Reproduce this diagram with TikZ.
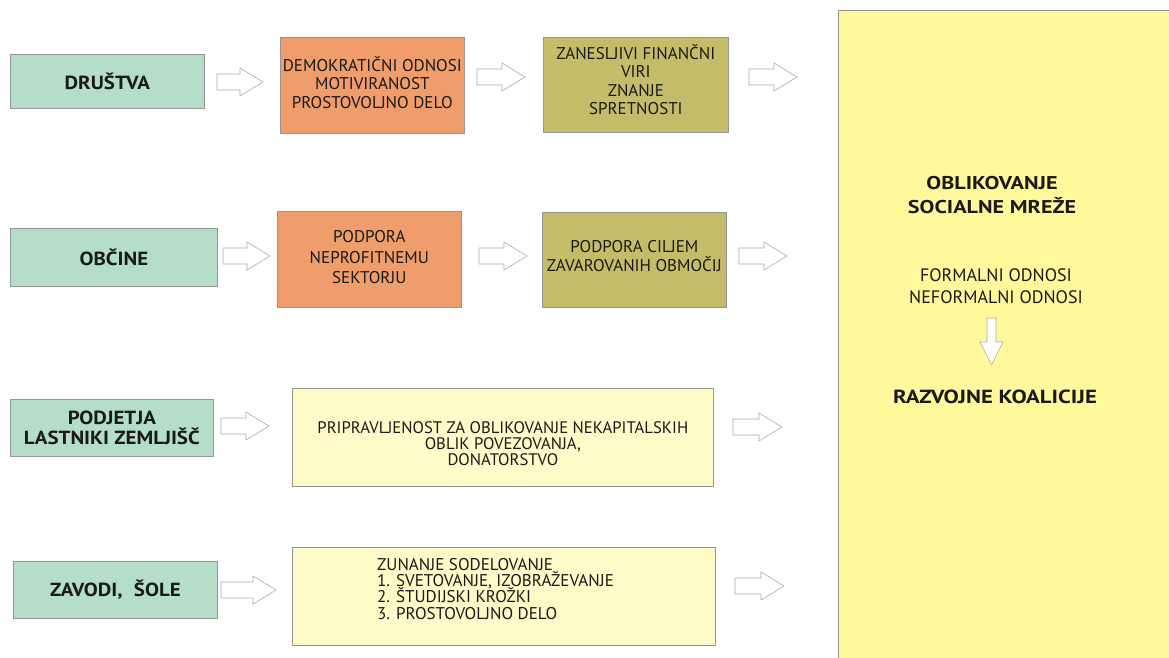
\documentclass[tikz,border=0pt]{standalone}
\usepackage{fontspec}
\setmainfont{PT Sans}
\newfontfamily\widefont{PT Sans}[FakeStretch=1.1]
\newfontfamily\widerfont{PT Sans}[FakeStretch=1.2]
\newcommand{\tightls}{\lineskiplimit=-20pt\relax}
\definecolor{gbox}{HTML}{B4DEC8}
\definecolor{obox}{HTML}{EF9D6B}
\definecolor{olbox}{HTML}{C4BC69}
\definecolor{ybox}{HTML}{FFFBC8}
\definecolor{bigy}{HTML}{FFF99B}
\definecolor{bordergray}{HTML}{959595}
\definecolor{txt}{HTML}{1A1A1A}
\newcommand{\rarr}[4]{% name, x0, ymid, length
  \coordinate (#1) at (#2,#3);
  \draw[blockarrow] (#1) ++(0,-8) -- ++(#4-23,0) -- ++(0,-6) -- ++(23,14) -- ++(-23,14) -- ++(0,-6) -- ++(-#4+23,0) -- cycle;}
\begin{document}
\begin{tikzpicture}[x=1pt,y=-1pt,
  box/.style={draw=bordergray, line width=0.7pt, inner sep=0pt, anchor=north west},
  gbx/.style={box, fill=gbox},
  obx/.style={box, fill=obox},
  olbx/.style={box, fill=olbox},
  ybx/.style={box, fill=ybox},
  bt/.style={text=txt, align=center, inner sep=0pt, font=\fontsize{17}{18.5}\selectfont\tightls},
  gt/.style={text=txt, align=center, inner sep=0pt, font=\widefont\fontsize{19}{20.5}\selectfont\bfseries\tightls},
  blockarrow/.style={draw=bordergray!80, line width=0.6pt, fill=white, line join=miter},
  bigb/.style={text=txt, align=center, inner sep=0pt, font=\widerfont\fontsize{18.5}{24}\selectfont\bfseries\tightls},
  bign/.style={text=txt, align=center, inner sep=0pt, font=\fontsize{18}{22}\selectfont\tightls}]
\useasboundingbox (0,0) rectangle (1169,657);
% big right box
\node[box, fill=bigy, minimum width=340pt, minimum height=660pt] (big) at (838,10) {};
% row 1
\node[gbx, minimum width=194pt, minimum height=54pt] (drustva) at (10,54) {};
\node[gt] (drustvat) at (drustva.center) {DRUŠTVA};
\node[obx, minimum width=184pt, minimum height=96pt] (o1) at (280,37) {};
\node[bt] (o1t) at ([yshift=3pt]o1.center) {DEMOKRATIČNI ODNOSI\\MOTIVIRANOST\\PROSTOVOLJNO DELO};
\node[olbx, minimum width=185pt, minimum height=95pt] (ol1) at (543,37) {};
\node[bt] (ol1t) at ([yshift=5pt]ol1.center) {ZANESLJIVI FINANČNI\\VIRI\\ZNANJE\\SPRETNOSTI};
% row 2
\node[gbx, minimum width=207pt, minimum height=58pt] (obcine) at (10,228) {};
\node[gt] (obcinet) at (obcine.center) {OBČINE};
\node[obx, minimum width=184pt, minimum height=96pt] (o2) at (277,211) {};
\node[bt, font=\fontsize{17}{20.5}\selectfont\tightls] (o2t) at ([yshift=2pt]o2.center) {PODPORA\\NEPROFITNEMU\\SEKTORJU};
\node[olbx, minimum width=184pt, minimum height=95pt] (ol2) at (542,212) {};
\node[bt] (ol2t) at ([yshift=4pt]ol2.center) {PODPORA CILJEM\\ZAVAROVANIH OBMOČIJ};
% row 3
\node[gbx, minimum width=203pt, minimum height=57pt] (podjetja) at (10,399) {};
\node[gt] (podjetjat) at (podjetja.center) {PODJETJA\\LASTNIKI ZEMLJIŠČ};
\node[ybx, minimum width=421pt, minimum height=98pt] (y1) at (292,388) {};
\node[bt, font=\fontsize{16.7}{16}\selectfont\tightls] (y1t) at ([yshift=-6pt]y1.center) {PRIPRAVLJENOST ZA OBLIKOVANJE NEKAPITALSKIH\\OBLIK POVEZOVANJA,\\DONATORSTVO};
% row 4
\node[gbx, minimum width=204pt, minimum height=57pt] (zavodi) at (13,561) {};
\node[gt] (zavodit) at (zavodi.center) {ZAVODI,\hspace{0.6em}ŠOLE};
\node[ybx, minimum width=423pt, minimum height=98pt] (y2) at (292,547) {};
\node[bt, anchor=north west, align=left, font=\fontsize{17}{16.3}\selectfont\tightls] (y2t) at (377,558) {ZUNANJE SODELOVANJE\\1. SVETOVANJE, IZOBRAŽEVANJE\\2. ŠTUDIJSKI KROŽKI\\3. PROSTOVOLJNO DELO};
% arrows
\rarr{a11}{217}{82}{46}
\rarr{a12}{477}{77}{48}
\rarr{a13}{749}{77}{48}
\rarr{a21}{223}{256}{47}
\rarr{a22}{479}{256}{48}
\rarr{a23}{739}{256}{48}
\rarr{a31}{221}{426}{48}
\rarr{a32}{733}{427}{49}
\rarr{a41}{221}{590}{55}
\rarr{a42}{735}{586}{49}
% big box text
\node[bigb] (t1) at (992,195) {OBLIKOVANJE\\SOCIALNE MREŽE};
\node[bign] (t2) at (996,286) {FORMALNI ODNOSI\\NEFORMALNI ODNOSI};
\node[bigb, font=\widerfont\fontsize{19}{22}\selectfont\bfseries] (t3) at (995,397) {RAZVOJNE KOALICIJE};
\coordinate (dn) at (991.5,318);
\draw[blockarrow] (dn) ++(-4.5,0) -- ++(0,24) -- ++(-7,0) -- ++(11.5,23) -- ++(11.5,-23) -- ++(-7,0) -- ++(0,-24) -- cycle;
\end{tikzpicture}
\end{document}
